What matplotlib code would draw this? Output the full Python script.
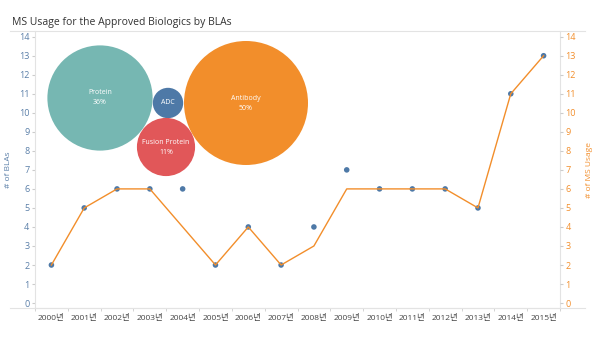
import matplotlib.pyplot as plt
from matplotlib.patches import Circle
from matplotlib.lines import Line2D
import numpy as np

plt.rcParams['font.family'] = ['Open Sans', 'Noto Sans CJK KR', 'DejaVu Sans']

years = [f"{y}년" for y in range(2000, 2016)]
blas = [2, 5, 6, 6, 6, 2, 4, 2, 4, 7, 6, 6, 6, 5, 11, 13]
ms_usage = [2, 5, 6, 6, 4, 2, 4, 2, 3, 6, 6, 6, 6, 5, 11, 13]

types = ["Protein", "ADC", "Fusion Protein", "Antibody"]
shares = [36, 3, 11, 50]
type_labels = ["Protein\n36%", "ADC", "Fusion Protein\n11%", "Antibody\n50%"]
type_colors = ["#76b7b2", "#4e79a7", "#e15759", "#f28e2b"]

blue = "#4e79a7"
orange = "#f28e2b"
axis_blue = "#5a7fa8"
frame = "#e3e3e3"

W, H = 600, 338
fig = plt.figure(figsize=(6, 3.38), dpi=100)
ax = fig.add_axes([35 / W, 30 / H, (560 - 35) / W, (308 - 31) / H])
x = np.arange(len(years))

ax.plot(x, ms_usage, color=orange, lw=1.0, zorder=3)
ax.scatter(x, blas, s=16, color=blue, zorder=2, edgecolors="none")

ax.set_xlim(-0.5, len(years) - 0.5)
ax.set_ylim(-0.26, 14.3)
ax.set_yticks(range(0, 15))
ax.set_xticks(x)
ax.set_xticklabels(years, fontsize=6, color="#444444")
ax.set_xticks(np.arange(-0.5, len(years), 1), minor=True)
ax.tick_params(axis="x", which="major", length=0, pad=4)
ax.tick_params(axis="x", which="minor", length=2, color="#cccccc")
ax.tick_params(axis="y", labelsize=6.5, labelcolor=axis_blue, length=2,
               color="#cccccc", pad=2)
for s in ["left", "right", "bottom"]:
    ax.spines[s].set_color(frame)
    ax.spines[s].set_linewidth(0.8)
ax.spines["top"].set_visible(False)
ax.set_ylabel("# of BLAs", fontsize=6, color=axis_blue, labelpad=5)

ax2 = ax.twinx()
ax2.set_ylim(ax.get_ylim())
ax2.set_yticks(range(0, 15))
ax2.tick_params(axis="y", labelsize=6.5, labelcolor=orange, length=2,
                color="#cccccc", pad=2)
for s in ["left", "right", "bottom", "top"]:
    ax2.spines[s].set_visible(False)
ax2.set_ylabel("# of MS Usage", fontsize=6, color=orange, labelpad=7)

# frame lines across the whole view
fig.add_artist(Line2D([10 / W, 585 / W], [30 / H, 30 / H], color=frame, lw=0.8))
fig.add_artist(Line2D([10 / W, 585 / W], [307 / H, 307 / H], color=frame, lw=0.8))

# packed bubbles (pixel layout overlay)
bub = fig.add_axes([0, 0, 1, 1])
bub.set_xlim(0, W)
bub.set_ylim(H, 0)
bub.axis("off")
centers = [(100, 98), (168, 103), (166, 147), (246, 103)]
k = 62 / np.sqrt(50)
for (cx, cy), sh, lab, col in zip(centers, shares, type_labels, type_colors):
    bub.add_patch(Circle((cx, cy), k * np.sqrt(sh), color=col, lw=0))
    bub.text(cx, cy, lab, ha="center", va="center", color="white",
             fontsize=5, linespacing=1.6)

fig.text(12 / W, 1 - 22 / H, "MS Usage for the Approved Biologics by BLAs",
         fontsize=7.5, color="#333333", va="center")

fig.savefig("out.png", dpi=100)
